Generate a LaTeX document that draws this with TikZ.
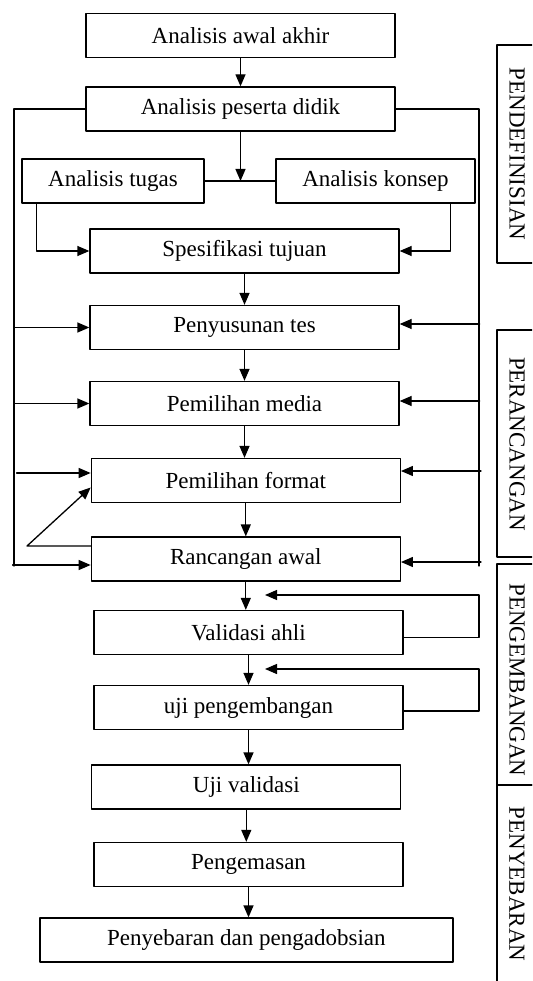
\documentclass[tikz,border=0pt]{standalone}
\usepackage{fontspec}
\setmainfont{Liberation Serif}
\usetikzlibrary{arrows.meta}
\tikzset{tahap/.style={draw,inner sep=0pt,minimum height=44pt,font=\fontsize{23}{26}\selectfont},
fase/.style={rotate=-90,inner sep=0pt,font=\fontsize{23}{26}\selectfont}}
\begin{document}
\begin{tikzpicture}[line cap=round,line join=round,>={Triangle[length=12pt,width=10pt]},x=1pt,y=-1pt,line width=1.3pt]
\clip(0,0) rectangle (532,981);
\node[tahap,minimum width=309pt] (awal) at (240.5,35.5) {Analisis awal akhir};
\node[tahap,minimum width=309pt] (peserta) at (240.5,109) {Analisis peserta didik};
\node[tahap,minimum width=182pt] (tugas) at (113,181) {Analisis tugas};
\node[tahap,minimum width=199pt] (konsep) at (375.5,181) {Analisis konsep};
\node[tahap,minimum width=309pt] (tujuan) at (244.5,251) {Spesifikasi tujuan};
\node[tahap,minimum width=309pt] (tes) at (244.5,327.5) {Penyusunan tes};
\node[tahap,minimum width=309pt] (media) at (244.5,403.5) {Pemilihan media};
\node[tahap,minimum width=309pt] (format) at (245.8,480.5) {Pemilihan format};
\node[tahap,minimum width=309pt] (rancangan) at (245.8,559) {Rancangan awal};
\node[tahap,minimum width=309pt] (validasi) at (248.5,632.5) {Validasi ahli};
\node[tahap,minimum width=309pt] (ujikembang) at (248.5,707.5) {uji pengembangan};
\node[tahap,minimum width=309pt] (ujivalid) at (246.3,787) {Uji validasi};
\node[tahap,minimum width=309pt] (kemas) at (248.5,864.5) {Pengemasan};
\node[tahap,minimum width=413pt] (sebar) at (246.4,940) {Penyebaran dan pengadobsian};
\coordinate (kiri) at (14,566);
\coordinate (kanan) at (479,566);
\coordinate (balik1) at (479,595);
\coordinate (ujung1) at (265,595);
\coordinate (balik2) at (479,669);
\coordinate (ujung2) at (265,669);
\coordinate (siku) at (27,546);
\draw[->] (awal.south) -- (awal.south |- peserta.north);
\draw (tugas.east) -- (konsep.west);
\draw[->] (peserta.south) -- (peserta.south |- tugas.east);
\draw[->] ([xshift=15pt]tugas.south west) |- (tujuan.west);
\draw[->] ([xshift=-25pt]konsep.south east) |- (tujuan.east);
\draw[->] (tujuan.south) -- (tujuan.south |- tes.north);
\draw[->] (tes.south) -- (tes.south |- media.north);
\draw[->] (media.south) -- (media.south |- format.north);
\draw[->] (format.south) -- (format.south |- rancangan.north);
\draw[->] (rancangan.south) -- (rancangan.south |- validasi.north);
\draw[->] (validasi.south) -- (validasi.south |- ujikembang.north);
\draw[->] (ujikembang.south) -- (ujikembang.south |- ujivalid.north);
\draw[->] (ujivalid.south) -- (ujivalid.south |- kemas.north);
\draw[->] (kemas.south) -- (kemas.south |- sebar.north);
\draw (peserta.west) -| (kiri);
\draw (peserta.east) -| (kanan);
\draw[->] (kiri |- tes.west) -- (tes.west);
\draw[->] (kiri |- media.west) -- (media.west);
\draw[<-] ([yshift=7.5pt]format.west) -- +(-74,0);
\draw[<-] ([yshift=-6pt]rancangan.west) -- +(-78,0);
\draw[->] ([yshift=13pt]rancangan.west) -- (siku) -- ([yshift=-7pt]format.west);
\draw[<-] ([yshift=3.5pt]tes.east) -- +(80,0);
\draw[<-] ([yshift=2.5pt]media.east) -- +(80,0);
\draw[<-] ([yshift=9.5pt]format.east) -- +(80,0);
\draw[<-] ([yshift=-3pt]rancangan.east) -- +(80,0);
\draw[->] ([yshift=-5pt]validasi.east) -| (balik1) -- (ujung1);
\draw[->] ([yshift=-3.5pt]ujikembang.east) -| (balik2) -- (ujung2);
\draw (497,45) rectangle (545,263);
\draw (497,330) rectangle (545,557);
\draw (497,564) rectangle (545,785);
\draw (497,785) rectangle (545,990);
\node[fase] (definisi) at (517,154) {PENDEFINISIAN};
\node[fase] (rancang) at (517,444) {PERANCANGAN};
\node[fase] (kembang) at (517,680) {PENGEMBANGAN};
\node[fase] (sebaran) at (517,884) {PENYEBARAN};
\end{tikzpicture}
\end{document}
